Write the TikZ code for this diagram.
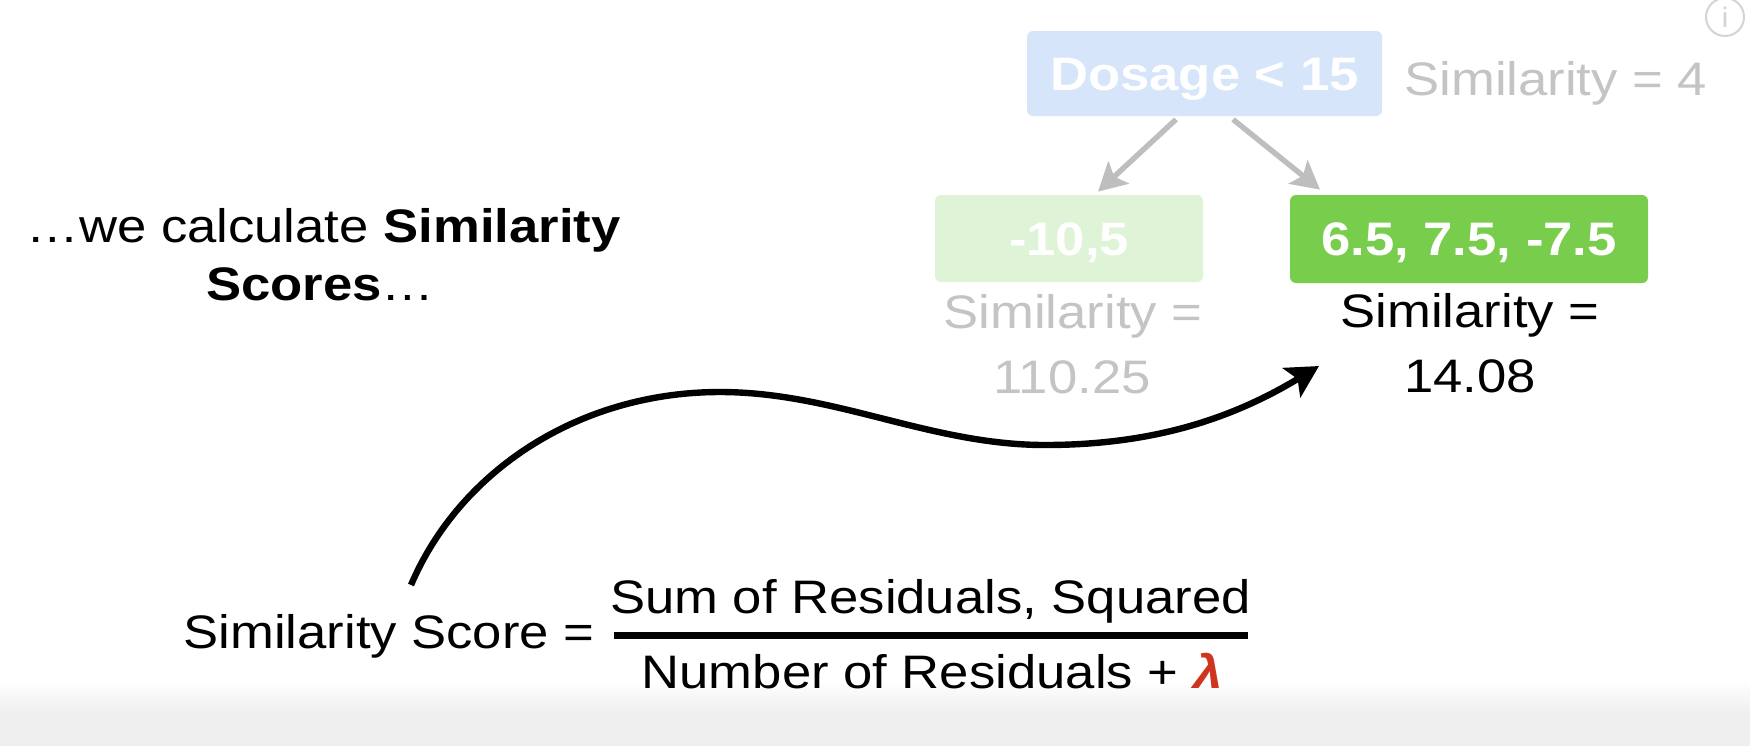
\documentclass[tikz,border=0pt]{standalone}
\usepackage{fontspec}
\setmainfont[FakeStretch=1.12]{Liberation Sans}
\usetikzlibrary{arrows.meta,calc}
\definecolor{boxblue}{RGB}{214,229,249}
\definecolor{leaflight}{RGB}{223,243,214}
\definecolor{leafgreen}{RGB}{121,205,76}
\definecolor{fadegray}{RGB}{196,196,196}
\definecolor{arrowgray}{RGB}{190,190,190}
\definecolor{lamred}{RGB}{206,52,30}
\definecolor{bandgray}{RGB}{239,239,239}
\definecolor{icongray}{RGB}{212,212,212}
\begin{document}
\begin{tikzpicture}[x=0.5pt,y=-0.5pt,
  txt/.style={font=\fontsize{23.5}{28}\selectfont, inner sep=0pt, anchor=base},
  leafbox/.style={rounded corners=3pt, inner sep=0pt, text=white,
    font=\fontsize{23.5}{28}\selectfont\bfseries, text height=16.8pt, text depth=0pt},
  grayarrow/.style={draw=arrowgray, line width=2.7pt, -{Stealth[length=14pt,width=15pt,inset=3pt]}},
  curvearrow/.style={draw=black, line width=3.2pt, -{Stealth[length=16pt,width=17pt,inset=3.5pt]}},
  fracbar/.style={draw=black, line width=3.5pt}
]
% background and bottom band
\fill[white] (0,0) rectangle (1750,746);
\useasboundingbox (0,0) rectangle (1750,746);
\shade[top color=white, bottom color=bandgray] (0,680) rectangle (1750,712);
\fill[bandgray] (0,712) rectangle (1750,746);

% info icon
\node[circle, draw=icongray, line width=1pt, minimum size=19pt, inner sep=0pt,
  text=icongray, font=\fontsize{14}{16}\selectfont] (info) at (1725,17) {i};

% left text
\node[txt] (l1) at (323.5,242) {…we calculate \textbf{Similarity}};
\node[txt] (l2) at (320.5,300) {\textbf{Scores}…};

% tree
\node[leafbox, fill=boxblue, minimum width=177.5pt, minimum height=42.5pt] (dos) at (1204.5,73.5) {Dosage < 15};
\node[txt, anchor=base west, text=fadegray] (sim4) at (1404,95) {Similarity = 4};
\node[leafbox, fill=leaflight, minimum width=134pt, minimum height=43.5pt] (leafL) at (1069,238.5) {-10,5};
\node[leafbox, fill=leafgreen, minimum width=179pt, minimum height=44pt] (leafR) at (1469,239) {6.5, 7.5, -7.5};

\draw[grayarrow] ([xshift=-14.25pt,yshift=-1.5pt]dos.south) -- ([xshift=14.5pt,yshift=1.5pt]leafL.north);
\draw[grayarrow] ([xshift=14.25pt,yshift=-1.5pt]dos.south) -- ([xshift=-74.5pt,yshift=2.5pt]leafR.north);

\node[txt, text=fadegray] (simL1) at (1073,328) {Similarity =};
\node[txt, text=fadegray] (simL2) at (1072,393) {110.25};
\node[txt] (simR1) at (1470,327) {Similarity =};
\node[txt] (simR2) at (1470,392) {14.08};

% formula
\node[txt] (sscore) at (389,648) {Similarity Score =};
\node[txt] (num) at (930.5,613) {Sum of Residuals, Squared};
\node[txt] (den) at (932,688) {Number of Residuals + \textcolor{lamred}{\textbf{\textit{λ}}}};
\draw[fracbar] (614,635) -- (1248,635);

% curved arrow
\coordinate (cs) at (411,585);
\coordinate (ce) at (1319,366);
\draw[curvearrow] (cs) .. controls (460,470) and (580,392) .. (720,392)
  .. controls (835,392) and (930,445) .. (1045,445)
  .. controls (1150,445) and (1230,420) .. (ce);
\end{tikzpicture}
\end{document}
